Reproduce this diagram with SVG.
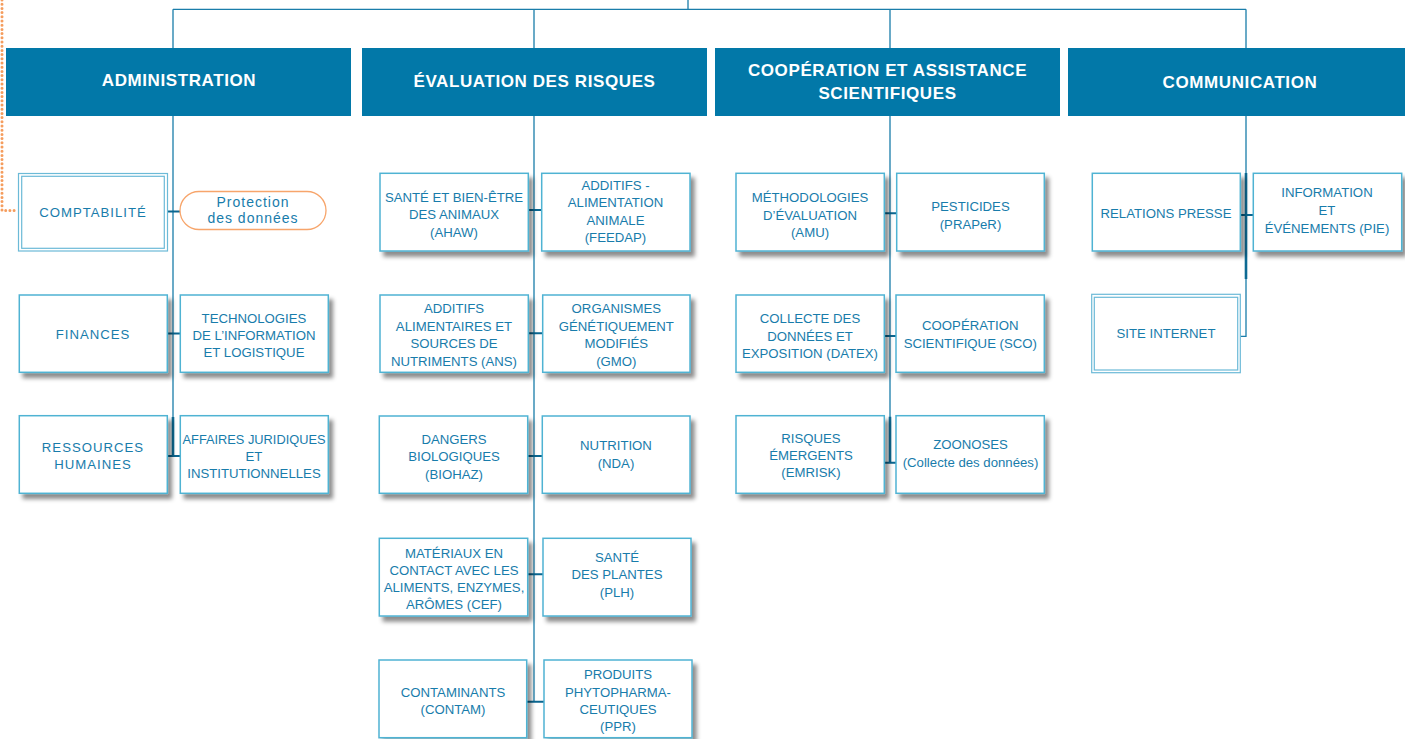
<svg xmlns="http://www.w3.org/2000/svg" width="1405" height="739" viewBox="0 0 1405 739">
<defs>
<filter id="sh" x="-10%" y="-10%" width="130%" height="140%">
<feDropShadow dx="4" dy="5" stdDeviation="2.2" flood-color="#000" flood-opacity="0.45"/>
</filter>
<style>
.hdr{fill:#0278a8}
.ht{fill:#fff;font-family:"Liberation Sans",Arial,sans-serif;font-weight:bold;font-size:17px;letter-spacing:0.6px;text-anchor:middle}
.box{fill:#fff;stroke:#4fb3d3;stroke-width:1.5;filter:url(#sh)}
.dbl{fill:#fff;stroke:#6cbad7;stroke-width:1.2}
.pill{fill:#fff;stroke:#f7a56b;stroke-width:1.3}
.t{fill:#187cab;font-family:"Liberation Sans",Arial,sans-serif;font-size:13.2px;text-anchor:middle}
.ls{letter-spacing:1px}
.tp{font-size:14px;letter-spacing:1px}
.v{stroke:#1a7daa;stroke-width:1.3;fill:none}
.vk{stroke:#0d6a93;stroke-width:2.6;fill:none}
.c{stroke:#0a6690;stroke-width:2;fill:none}
.dot{stroke:#f59d5e;stroke-width:3;stroke-linecap:round;stroke-dasharray:0 4.2;fill:none}
</style>
</defs>

<g id="connectors">
<path class="dot" d="M2,0 V210.5 H16"/>
<path class="v" d="M688,0 V9.3 M173,9.3 H1246 M173,9.3 V48 M534,9.3 V48 M890,9.3 V48 M1246,9.3 V48"/>
<path class="v" d="M173,116 V456 M534,116 V701.7 M890,116 V462.7 M1246,116 V336.3 H1240.3"/>
<path class="vk" d="M173,417 V456 M890,416.7 V462.7 M1246,173 V279"/>
<path class="c" d="M167.7,211.5 H180 M167.3,333.5 H180.3 M167.3,456 H180.3"/>
<path class="c" d="M528.3,210 H541.7 M528.3,333.3 H542.7 M527.7,456 H542.3 M527.7,574.3 H543 M526.7,701.7 H544"/>
<path class="c" d="M884.3,213.3 H896.7 M884.3,336 H896 M884.3,462.7 H896"/>
<path class="c" d="M1240.3,215 H1253.3"/>
</g>

<g id="administration">
<rect class="hdr" x="6" y="48" width="345" height="68"/>
<text class="ht" x="179" y="86">ADMINISTRATION</text>
</g>
<g id="comptabilite">
<rect class="dbl" x="18.5" y="173.5" width="149" height="77.5"/>
<rect class="dbl" x="21.7" y="176.3" width="142.6" height="72"/>
<text class="t ls" x="93" y="216.5">COMPTABILITÉ</text>
</g>
<g id="protection">
<rect class="pill" x="180" y="191.5" width="146" height="38" rx="19"/>
<text class="t tp" x="253" y="206.5">Protection</text>
<text class="t tp" x="253" y="222.5">des données</text>
</g>
<g id="finances">
<rect class="box" x="19.3" y="295" width="148" height="77.3"/>
<text class="t ls" x="93" y="339">FINANCES</text>
</g>
<g id="technologies">
<rect class="box" x="180.3" y="295" width="148" height="77.3"/>
<text class="t" x="254" y="322.5">TECHNOLOGIES</text>
<text class="t" x="254" y="339.5">DE L’INFORMATION</text>
<text class="t" x="254" y="356.5">ET LOGISTIQUE</text>
</g>
<g id="ressources">
<rect class="box" x="19.3" y="415.7" width="148" height="77.6"/>
<text class="t ls" x="93" y="451.5">RESSOURCES</text>
<text class="t ls" x="93" y="469">HUMAINES</text>
</g>
<g id="affaires">
<rect class="box" x="180.3" y="415.7" width="148" height="77.6"/>
<text class="t" x="254" y="444" style="font-size:12.8px">AFFAIRES JURIDIQUES</text>
<text class="t" x="254" y="461">ET</text>
<text class="t" x="254" y="478">INSTITUTIONNELLES</text>
</g>

<g id="evaluation">
<rect class="hdr" x="362" y="48" width="345" height="68"/>
<text class="ht" x="534.5" y="87">ÉVALUATION DES RISQUES</text>
</g>
<g id="ahaw">
<rect class="box" x="380" y="173.3" width="148.3" height="77.7"/>
<text class="t" x="454" y="201.5">SANTÉ ET BIEN-ÊTRE</text>
<text class="t" x="454" y="219">DES ANIMAUX</text>
<text class="t" x="454" y="236.5">(AHAW)</text>
</g>
<g id="feedap">
<rect class="box" x="541.7" y="173.3" width="148.3" height="77.7"/>
<text class="t" x="615.5" y="189.5">ADDITIFS -</text>
<text class="t" x="615.5" y="207">ALIMENTATION</text>
<text class="t" x="615.5" y="224.5">ANIMALE</text>
<text class="t" x="615.5" y="242">(FEEDAP)</text>
</g>
<g id="ans">
<rect class="box" x="380" y="295" width="148.3" height="77.3"/>
<text class="t" x="454" y="313.3">ADDITIFS</text>
<text class="t" x="454" y="330.8">ALIMENTAIRES ET</text>
<text class="t" x="454" y="348.3">SOURCES DE</text>
<text class="t" x="454" y="365.8">NUTRIMENTS (ANS)</text>
</g>
<g id="gmo">
<rect class="box" x="542.7" y="295" width="147.3" height="77.3"/>
<text class="t" x="616.3" y="313.3">ORGANISMES</text>
<text class="t" x="616.3" y="330.8">GÉNÉTIQUEMENT</text>
<text class="t" x="616.3" y="348.3">MODIFIÉS</text>
<text class="t" x="616.3" y="365.8">(GMO)</text>
</g>
<g id="biohaz">
<rect class="box" x="379.3" y="416" width="148.4" height="77.3"/>
<text class="t" x="454" y="444">DANGERS</text>
<text class="t" x="454" y="461.3">BIOLOGIQUES</text>
<text class="t" x="454" y="478.6">(BIOHAZ)</text>
</g>
<g id="nda">
<rect class="box" x="542.3" y="416" width="147.7" height="77.3"/>
<text class="t" x="616" y="450">NUTRITION</text>
<text class="t" x="616" y="467.5">(NDA)</text>
</g>
<g id="cef">
<rect class="box" x="379.3" y="538.3" width="148.4" height="77.7"/>
<text class="t" x="454" y="557.8">MATÉRIAUX EN</text>
<text class="t" x="454" y="575">CONTACT AVEC LES</text>
<text class="t" x="454" y="592.2">ALIMENTS, ENZYMES,</text>
<text class="t" x="454" y="609.4">ARÔMES (CEF)</text>
</g>
<g id="plh">
<rect class="box" x="543" y="538.3" width="148" height="77.7"/>
<text class="t" x="617" y="561.7">SANTÉ</text>
<text class="t" x="617" y="579.2">DES PLANTES</text>
<text class="t" x="617" y="596.7">(PLH)</text>
</g>
<g id="contam">
<rect class="box" x="379" y="660" width="147.7" height="77.7"/>
<text class="t" x="453" y="696.7">CONTAMINANTS</text>
<text class="t" x="453" y="714">(CONTAM)</text>
</g>
<g id="ppr">
<rect class="box" x="544" y="660" width="148" height="77.7"/>
<text class="t" x="618" y="679.3">PRODUITS</text>
<text class="t" x="618" y="696.7">PHYTOPHARMA-</text>
<text class="t" x="618" y="714">CEUTIQUES</text>
<text class="t" x="618" y="731.4">(PPR)</text>
</g>

<g id="cooperation">
<rect class="hdr" x="715" y="48" width="345" height="68"/>
<text class="ht" x="887.5" y="76">COOPÉRATION ET ASSISTANCE</text>
<text class="ht" x="887.5" y="99">SCIENTIFIQUES</text>
</g>
<g id="amu">
<rect class="box" x="736" y="173.3" width="148.3" height="77.7"/>
<text class="t" x="810" y="202.3">MÉTHODOLOGIES</text>
<text class="t" x="810" y="219.5">D’ÉVALUATION</text>
<text class="t" x="810" y="236.7">(AMU)</text>
</g>
<g id="praper">
<rect class="box" x="896.7" y="173.3" width="147.6" height="77.7"/>
<text class="t" x="970.5" y="210.7">PESTICIDES</text>
<text class="t" x="970.5" y="228.5">(PRAPeR)</text>
</g>
<g id="datex">
<rect class="box" x="736" y="295" width="148.3" height="77.3"/>
<text class="t" x="810" y="323.3">COLLECTE DES</text>
<text class="t" x="810" y="340.8">DONNÉES ET</text>
<text class="t" x="810" y="358.3">EXPOSITION (DATEX)</text>
</g>
<g id="sco">
<rect class="box" x="896" y="295" width="148.3" height="77.3"/>
<text class="t" x="970.3" y="330">COOPÉRATION</text>
<text class="t" x="970.3" y="348">SCIENTIFIQUE (SCO)</text>
</g>
<g id="emrisk">
<rect class="box" x="736" y="415.7" width="148.3" height="77.6"/>
<text class="t" x="811" y="442.7">RISQUES</text>
<text class="t" x="811" y="460">ÉMERGENTS</text>
<text class="t" x="811" y="477.3">(EMRISK)</text>
</g>
<g id="zoonoses">
<rect class="box" x="896" y="415.7" width="148.3" height="77.6"/>
<text class="t" x="970.5" y="449.3">ZOONOSES</text>
<text class="t" x="970.5" y="466.7">(Collecte des données)</text>
</g>

<g id="communication">
<rect class="hdr" x="1068" y="48" width="337" height="68"/>
<text class="ht" x="1240" y="87.5">COMMUNICATION</text>
</g>
<g id="presse">
<rect class="box" x="1092.3" y="173.3" width="148" height="77.7"/>
<text class="t" x="1166" y="218.3">RELATIONS PRESSE</text>
</g>
<g id="pie">
<rect class="box" x="1253.3" y="173.3" width="148.4" height="77.7"/>
<text class="t" x="1327" y="197.3">INFORMATION</text>
<text class="t" x="1327" y="215">ET</text>
<text class="t" x="1327" y="232.7">ÉVÉNEMENTS (PIE)</text>
</g>
<g id="site">
<rect class="dbl" x="1091.7" y="294.3" width="148.6" height="78.4"/>
<rect class="dbl" x="1094.3" y="297.3" width="143.4" height="72.7"/>
<text class="t" x="1166" y="337.7">SITE INTERNET</text>
</g>
</svg>
